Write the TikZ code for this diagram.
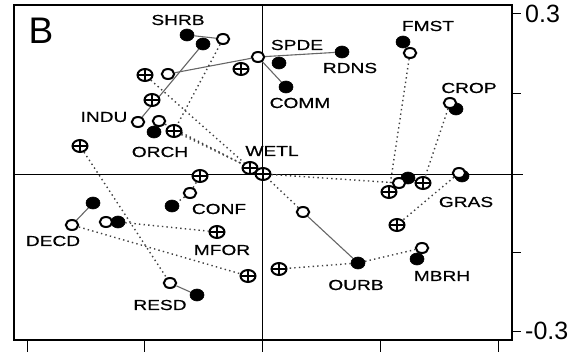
\documentclass[tikz,border=0pt]{standalone}
\usepackage{fontspec}
\setmainfont{Liberation Sans}
\newfontfamily\lblfont{Liberation Sans}[FakeStretch=1.32,FakeBold=0.6]
\usetikzlibrary{shapes.geometric}
\pgfdeclarelayer{bg}
\pgfsetlayers{bg,main}
\begin{document}
\begin{tikzpicture}[x=1pt,y=-1pt,
  filled/.style={ellipse, fill=black, draw=black, line width=0.6pt, minimum width=14pt, minimum height=12pt, inner sep=0pt},
  open/.style={ellipse, fill=white, draw=black, line width=2pt, minimum width=12.5pt, minimum height=10pt, inner sep=0pt},
  crossed/.style={ellipse, fill=white, draw=black, line width=2pt, minimum width=15pt, minimum height=12pt, inner sep=0pt,
    path picture={\draw[line width=1.6pt] (path picture bounding box.north) -- (path picture bounding box.south)
      (path picture bounding box.west) -- (path picture bounding box.east);}},
  lbl/.style={font=\lblfont\fontsize{14.5}{14.5}\selectfont, inner sep=0pt},
  axlbl/.style={font=\fontsize{25}{25}\selectfont, inner sep=0pt, anchor=west},
  solidlink/.style={draw=black!60, line width=1.1pt},
  dotlink/.style={draw=black!75, line width=1.4pt, dash pattern=on 1.4pt off 3.2pt},
  frame/.style={line width=1.8pt},
  axis/.style={line width=1pt},
]
\useasboundingbox (0,0) rectangle (584,353);

% ---------- markers ----------
% FMST
\node[filled] (f6) at (403,42) {};
\node[open] (o4) at (410,53) {};
% CROP
\node[filled] (f7) at (456,109) {};
\node[open] (o5) at (450,103) {};
% MBRH
\node[filled] (f15) at (417,259) {};
\node[open] (o12) at (422,248) {};
% GRAS cluster
\node[filled] (f16) at (462,176) {};
\node[open] (o10) at (459,173) {};
\node[filled] (f9) at (408,178) {};
\node[open] (o9) at (399,183) {};
\node[crossed] (c12) at (389,192) {};
\node[crossed] (c13) at (423,183) {};
\node[crossed] (c14) at (397,225) {};
% top-left cluster
\node[filled] (f1) at (187,35) {};
\node[open] (o1) at (223,39) {};
\node[filled] (f2) at (203,44) {};
\node[open] (o2) at (168,74) {};
\node[crossed] (c1) at (145,75) {};
\node[crossed] (c3) at (152,100) {};
\node[open] (o6) at (138,122) {};
\node[open] (o7) at (159,121) {};
\node[filled] (f8) at (154,132) {};
\node[crossed] (c4) at (174,131) {};
\node[crossed] (c5) at (80,146) {};
% SPDE / RDNS / COMM
\node[filled] (f3) at (342,52) {};
\node[filled] (f4) at (279,63) {};
\node[filled] (f5) at (286,87) {};
\node[open] (o3) at (258,57) {};
\node[crossed] (c2) at (241,69) {};
% WETL
\node[crossed] (c6) at (250,168) {};
\node[crossed] (c7) at (263,174) {};
% CONF
\node[crossed] (c8) at (200,176) {};
\node[open] (o8) at (190,193) {};
\node[filled] (f10) at (172,206) {};
% DECD
\node[filled] (f11) at (93,203) {};
\node[open] (o13) at (72,225) {};
\node[open] (o14) at (106,222) {};
\node[filled] (f12) at (118,222) {};
% MFOR, RESD
\node[crossed] (c9) at (217,232) {};
\node[open] (o15) at (170,283) {};
\node[filled] (f13) at (197,295) {};
\node[crossed] (c10) at (248,276) {};
% OURB
\node[open] (o11) at (303,212) {};
\node[crossed] (c11) at (279,269) {};
\node[filled] (f14) at (358,263) {};

% ---------- axes, connectors (below markers) ----------
\begin{pgfonlayer}{bg}
\draw[axis] (262,5) -- (262,352);
\draw[axis] (14,174) -- (523,174);
\foreach \tx in {27,144,380,498} \draw[axis] (\tx,340) -- (\tx,352);
\foreach \ty in {14,94,252,331} \draw[axis] (512,\ty) -- (521,\ty);

\draw[solidlink] (f1) -- (o1);
\draw[solidlink] (f2) -- (o6);
\draw[solidlink] (o2) -- (o3);
\draw[solidlink] (o3) -- (f3);
\draw[solidlink] (o3) -- (f5);
\draw[solidlink] (f11) -- (o13);
\draw[solidlink] (o15) -- (f13);
\draw[solidlink] (o11) -- (f14);

\draw[dotlink] (o1) -- (c4);
\draw[dotlink] (c1) -- (c6);
\draw[dotlink] (o7) -- (c6);
\draw[dotlink] (c4) -- (c7);
\draw[dotlink] (c7) -- (o9);
\draw[dotlink] (o4) -- (c12);
\draw[dotlink] (o5) -- (c13);
\draw[dotlink] (o10) -- (c14);
\draw[dotlink] (o11) -- (c7);
\draw[dotlink] (f14) -- (c11);
\draw[dotlink] (f14) -- (o12);
\draw[dotlink] (f12) -- (c9);
\draw[dotlink] (o13) -- (c10);
\draw[dotlink] (c5) -- (o15);
\draw[dotlink] (o8) -- (f10);
\draw[dotlink] (o8) -- (c8);
\end{pgfonlayer}

\draw[frame] (14,5) rectangle (512,340);

% ---------- labels ----------
\node[font=\fontsize{37}{37}\selectfont, inner sep=0pt] (panel) at (41,31) {B};
\node[axlbl] (ytop) at (525,14) {0.3};
\node[axlbl] (ybot) at (525,331) {-0.3};

\node[lbl] (lSHRB) at (178,20) {SHRB};
\node[lbl] (lSPDE) at (297,45) {SPDE};
\node[lbl] (lRDNS) at (350,68) {RDNS};
\node[lbl] (lCOMM) at (300,103) {COMM};
\node[lbl] (lFMST) at (428,26) {FMST};
\node[lbl] (lCROP) at (469,88) {CROP};
\node[lbl] (lINDU) at (104,117) {INDU};
\node[lbl] (lORCH) at (160,152) {ORCH};
\node[lbl] (lWETL) at (272,151) {WETL};
\node[lbl] (lGRAS) at (466,202) {GRAS};
\node[lbl] (lCONF) at (219,209) {CONF};
\node[lbl] (lDECD) at (53,241) {DECD};
\node[lbl] (lMFOR) at (222,250) {MFOR};
\node[lbl] (lRESD) at (160,305) {RESD};
\node[lbl] (lOURB) at (356,285) {OURB};
\node[lbl] (lMBRH) at (442,276) {MBRH};
\end{tikzpicture}
\end{document}
